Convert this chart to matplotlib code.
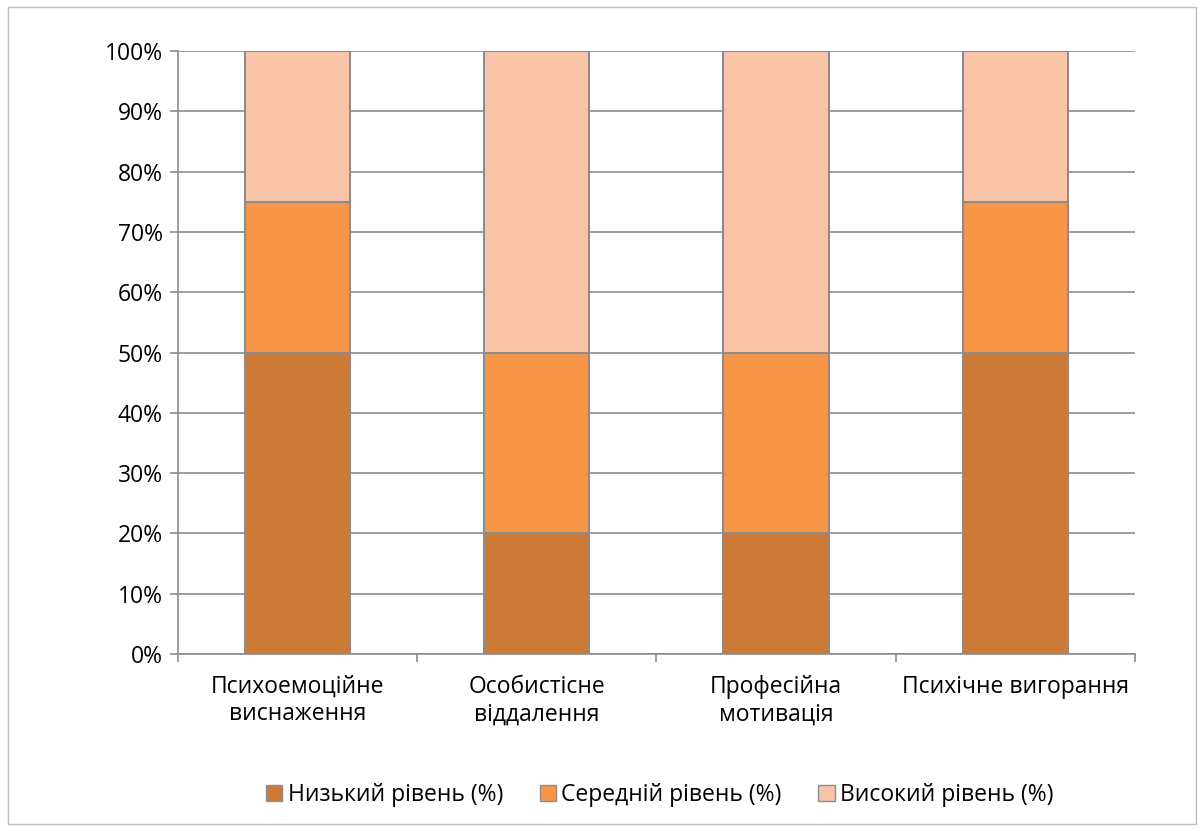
import numpy as np
import matplotlib.pyplot as plt
from matplotlib.patches import Rectangle
from matplotlib.ticker import FuncFormatter

plt.rcParams['font.family'] = ['Open Sans', 'DejaVu Sans']

categories = ['Психоемоційне\nвиснаження', 'Особистісне\nвіддалення',
              'Професійна\nмотивація', 'Психічне вигорання']
low = [50, 20, 20, 50]
mid = [25, 30, 30, 25]
high = [25, 50, 50, 25]
series_names = ['Низький рівень (%)', 'Середній рівень (%)', 'Високий рівень (%)']
colors = ['#CD7A37', '#F79646', '#FAC4A9']
edge = '#8C8C8C'
fs = 16.5

fig = plt.figure(figsize=(12.04, 8.31), dpi=100)
fig.patches.append(Rectangle((0.007, 0.009), 0.986, 0.982, transform=fig.transFigure,
                             fill=False, edgecolor='#BFBFBF', linewidth=1))
ax = fig.add_axes([0.1478, 0.2130, 0.7949, 0.7256])

x = np.arange(len(categories))
bottom = np.zeros(len(categories))
for vals, name, c in zip([low, mid, high], series_names, colors):
    ax.bar(x, vals, width=0.44, bottom=bottom, color=c, edgecolor=edge,
           linewidth=1.5, label=name, zorder=3)
    bottom += np.array(vals)

ax.set_xlim(-0.5, len(categories) - 0.5)
ax.set_ylim(0, 100)
ax.set_yticks(np.arange(0, 101, 10))
ax.yaxis.set_major_formatter(FuncFormatter(lambda v, p: f'{int(v)}%'))
ax.grid(axis='y', color='#8C8C8C', linewidth=1.2, zorder=0)

ax.set_xticks(x)
ax.set_xticklabels(categories, fontsize=fs, linespacing=1.2)
ax.set_xticks(np.arange(-0.5, len(categories)), minor=True)
ax.tick_params(axis='x', which='major', length=0, pad=15)
ax.tick_params(axis='x', which='minor', length=6, color=edge, width=1.2)
ax.tick_params(axis='y', length=6, color=edge, width=1.2, labelsize=fs, pad=5)

for s in ['top', 'right']:
    ax.spines[s].set_visible(False)
for s in ['left', 'bottom']:
    ax.spines[s].set_color(edge)
    ax.spines[s].set_linewidth(1.2)

leg = fig.legend(loc='center', bbox_to_anchor=(0.548, 0.043), ncol=3, frameon=False,
                 fontsize=fs, handlelength=0.7, handleheight=0.7, handletextpad=0.25,
                 columnspacing=1.6)
for h in leg.legend_handles:
    h.set_linewidth(1)

fig.savefig('out.png', dpi=100)
